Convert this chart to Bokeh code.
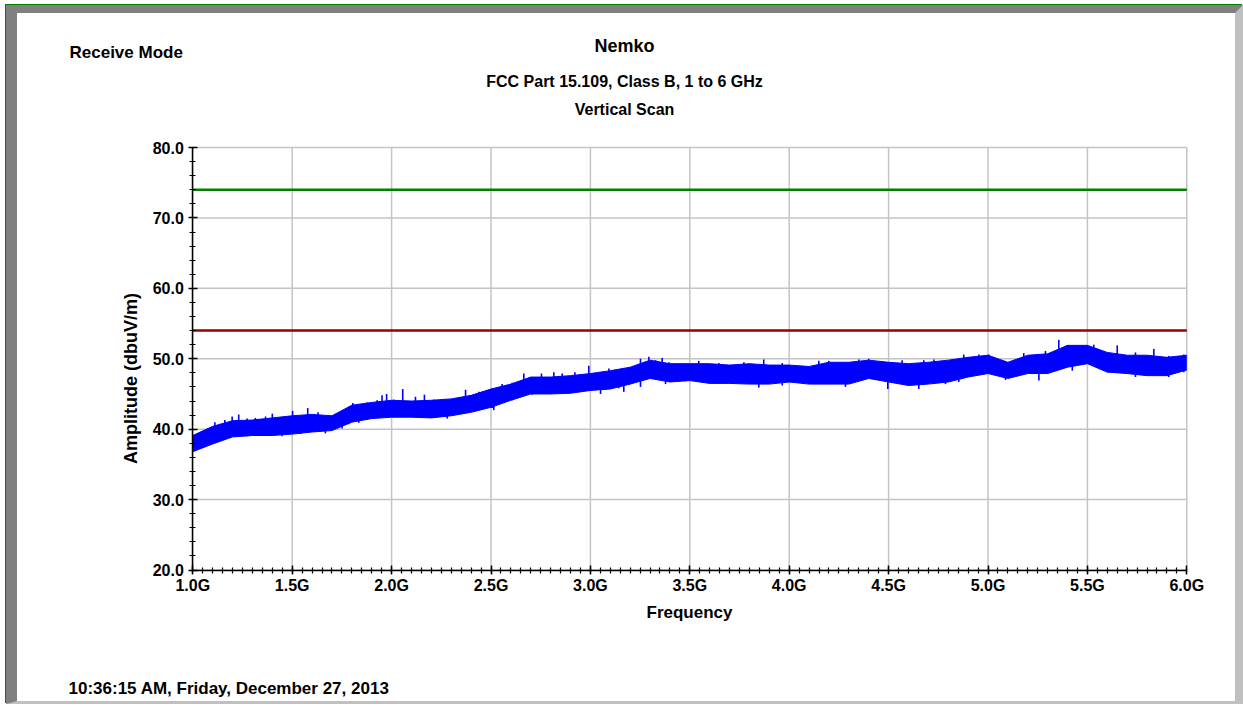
import math
import numpy as np
from bokeh.plotting import figure
from bokeh.models import (Range1d, FixedTicker, PrintfTickFormatter, Label, LinearAxis)
from bokeh.embed import file_html
from bokeh.resources import INLINE

# ---------------- data ----------------
freq_ghz = [1.0, 1.1, 1.2, 1.3, 1.4, 1.5, 1.6, 1.7, 1.8, 1.9,
            2.0, 2.1, 2.2, 2.3, 2.4, 2.5, 2.6, 2.7, 2.8, 2.9,
            3.0, 3.1, 3.2, 3.3, 3.4, 3.5, 3.6, 3.7, 3.8, 3.9,
            4.0, 4.1, 4.2, 4.3, 4.4, 4.5, 4.6, 4.7, 4.8, 4.9,
            5.0, 5.1, 5.2, 5.3, 5.4, 5.5, 5.6, 5.7, 5.8, 5.9, 6.0]
amp_high = [39.1, 40.4, 41.2, 41.3, 41.6, 41.9, 42.1, 41.9, 43.4, 43.8,
            44.1, 44.0, 44.1, 44.3, 44.8, 45.7, 46.4, 47.4, 47.4, 47.6,
            47.9, 48.3, 48.8, 49.8, 49.3, 49.3, 49.3, 49.1, 49.3, 49.1,
            49.1, 48.9, 49.5, 49.5, 49.8, 49.5, 49.3, 49.5, 49.8, 50.2,
            50.5, 49.5, 50.5, 50.7, 51.9, 51.9, 50.9, 50.5, 50.5, 50.2, 50.5]
amp_low = [36.8, 37.9, 38.9, 39.1, 39.1, 39.3, 39.6, 39.8, 41.0, 41.5,
           41.7, 41.7, 41.6, 41.9, 42.4, 43.1, 44.1, 45.0, 45.0, 45.1,
           45.5, 45.7, 46.4, 47.2, 46.7, 46.9, 46.5, 46.5, 46.4, 46.4,
           46.7, 46.4, 46.4, 46.4, 47.2, 46.7, 46.2, 46.4, 46.7, 47.4,
           47.9, 47.2, 47.9, 47.9, 48.8, 49.3, 48.1, 47.9, 47.6, 47.6, 48.4]

# upward spikes of the trace (frequency, peak value)
peak_freq = [1.111, 1.161, 1.198, 1.231, 1.273, 1.315, 1.366, 1.40, 1.449, 1.502,
             1.542, 1.578, 1.630, 1.667, 1.751, 1.785, 1.805, 1.835, 1.877, 1.927,
             1.952, 1.975, 2.011, 2.056, 2.120, 2.165, 2.212, 2.271, 2.372, 2.439,
             2.506, 2.556, 2.607, 2.665, 2.707, 2.754, 2.816, 2.858, 2.922, 2.992,
             3.051, 3.093, 3.143, 3.193, 3.252, 3.294, 3.328, 3.361, 3.395, 3.478,
             3.545, 3.646, 3.772, 3.872, 3.965, 4.149, 4.199, 4.350, 4.400, 4.518,
             4.568, 4.677, 4.728, 4.878, 4.954, 5.004, 5.180, 5.289, 5.356, 5.398,
             5.474, 5.532, 5.650, 5.742, 5.834, 5.909, 5.985]
peak_amp = [41.0, 41.3, 41.8, 42.1, 41.5, 41.6, 41.8, 42.2, 41.5, 42.6,
            41.8, 43.0, 42.4, 41.9, 42.6, 43.2, 43.7, 43.4, 43.8, 44.1,
            44.8, 45.0, 44.2, 45.7, 44.6, 44.9, 44.2, 44.3, 45.6, 45.3,
            45.5, 46.4, 46.6, 47.9, 47.4, 47.9, 48.1, 47.9, 48.1, 49.0,
            48.1, 48.6, 48.3, 48.8, 50.0, 50.3, 49.8, 50.1, 49.5, 49.3,
            49.7, 49.4, 49.5, 49.9, 49.4, 49.7, 49.7, 49.9, 50.0, 49.5,
            49.8, 49.8, 49.9, 50.6, 50.6, 50.6, 50.8, 51.1, 52.7, 51.9,
            51.7, 52.0, 51.9, 50.9, 51.4, 50.4, 50.6]

# downward spikes of the trace (frequency, dip value)
dip_freq = [2.280, 2.514, 3.051, 3.168, 3.252, 3.378, 3.847, 3.965, 4.283, 4.496,
            4.652, 4.786, 4.853, 5.088, 5.256, 5.424, 5.742, 5.909]
dip_amp = [41.5, 42.7, 45.0, 45.3, 46.0, 46.4, 45.9, 46.2, 46.0, 45.7,
           45.7, 46.4, 46.7, 47.0, 46.9, 48.3, 47.4, 47.4]

limit_peak = 74.0      # green line
limit_average = 54.0   # dark red line
x_limits = [1.0, 6.0]
y_limits = [20.0, 80.0]

x_major = [1.0, 1.5, 2.0, 2.5, 3.0, 3.5, 4.0, 4.5, 5.0, 5.5, 6.0]
y_major = [20, 30, 40, 50, 60, 70, 80]

title_main = "Nemko"
title_sub1 = "FCC Part 15.109, Class B, 1 to 6 GHz"
title_sub2 = "Vertical Scan"
mode_text = "Receive Mode"
date_text = "10:36:15 AM, Friday, December 27, 2013"
x_label = "Frequency"
y_label = "Amplitude (dbuV/m)"

# ---------------- layout geometry (page pixels) ----------------
W, H = 1237, 699                  # host box (border-box), canvas has this size
CANVAS_LEFT, CANVAS_TOP = 17, 13  # canvas origin on the page (inside the bevel)
PLOT_LEFT, PLOT_RIGHT = 192.3, 1186.3
PLOT_TOP, PLOT_BOTTOM = 147.0, 569.5

sx = (PLOT_RIGHT - PLOT_LEFT) / (x_limits[1] - x_limits[0])
sy = (PLOT_BOTTOM - PLOT_TOP) / (y_limits[1] - y_limits[0])
X0 = x_limits[0] - (PLOT_LEFT - CANVAS_LEFT) / sx
X1 = X0 + W / sx
Y1 = y_limits[1] + (PLOT_TOP - CANVAS_TOP) / sy
Y0 = Y1 - H / sy

FONT = "Liberation Sans"
BLUE = "#0000ff"
GRID = "#c4c4c4"

p = figure(width=W, height=H, output_backend="svg", toolbar_location=None,
           x_range=Range1d(X0, X1), y_range=Range1d(Y0, Y1),
           x_axis_type=None, y_axis_type=None, min_border=0,
           background_fill_color="white", border_fill_color="white")
p.styles = {
    "margin-left": "6px",
    "margin-top": "5px",
    "border-left": "11px solid #808080",
    "border-top": "8px solid #808080",
    "border-right": "8px solid #c0c0c0",
    "border-bottom": "3px solid #c0c0c0",
    "box-shadow": "-1px -1px 0 0 #008000",
}
p.outline_line_color = None

# grid lines (drawn from the tick values)
p.segment(x0=x_major, y0=[y_limits[0]] * len(x_major), x1=x_major, y1=[y_limits[1]] * len(x_major),
          line_color=GRID, line_width=1.5)
p.segment(x0=[x_limits[0]] * len(y_major), y0=y_major, x1=[x_limits[1]] * len(y_major), y1=y_major,
          line_color=GRID, line_width=1.5)

# axes fixed at the data corner
xminor = [round(1.0 + 0.05 * i, 2) for i in range(101)]
yminor = [20 + 2 * i for i in range(31)]
xaxis = LinearAxis(fixed_location=y_limits[0], bounds=tuple(x_limits),
                   ticker=FixedTicker(ticks=x_major, minor_ticks=xminor),
                   formatter=PrintfTickFormatter(format="%.1fG"), axis_label=x_label)
yaxis = LinearAxis(fixed_location=x_limits[0], bounds=tuple(y_limits),
                   ticker=FixedTicker(ticks=y_major, minor_ticks=yminor),
                   formatter=PrintfTickFormatter(format="%.1f"))
for ax in (xaxis, yaxis):
    ax.axis_line_color = "black"
    ax.axis_line_width = 1.5
    ax.major_tick_line_color = "black"
    ax.major_tick_line_width = 1.5
    ax.minor_tick_line_color = "black"
    ax.minor_tick_line_width = 1.2
    ax.major_tick_in = 5
    ax.major_tick_out = 4
    ax.minor_tick_in = 3
    ax.minor_tick_out = 3
    ax.major_label_text_font = FONT
    ax.major_label_text_font_style = "bold"
    ax.major_label_text_font_size = "16px"
    ax.major_label_text_color = "black"
    ax.axis_label_text_font = FONT
    ax.axis_label_text_font_style = "bold"
    ax.axis_label_text_font_size = "17px"
    ax.axis_label_text_color = "black"
xaxis.axis_label_standoff = 5
xaxis.major_label_standoff = 3
p.add_layout(xaxis, "below")
p.add_layout(yaxis, "left")

# limit lines
p.line(x=x_limits, y=[limit_peak, limit_peak], line_color="#008000", line_width=2.5)
p.line(x=x_limits, y=[limit_average, limit_average], line_color="#990000", line_width=2.5)

# measured trace: band plus spikes
p.varea(x=freq_ghz, y1=amp_low, y2=amp_high, fill_color=BLUE)
p.line(x=freq_ghz, y=amp_high, line_color=BLUE, line_width=1)
p.line(x=freq_ghz, y=amp_low, line_color=BLUE, line_width=1)
peak_base = [a - 2.5 for a in peak_amp]
dip_base = [a + 2.5 for a in dip_amp]
p.segment(x0=peak_freq, y0=peak_base, x1=peak_freq, y1=peak_amp,
          line_color=BLUE, line_width=1.6)
p.segment(x0=dip_freq, y0=dip_base, x1=dip_freq, y1=dip_amp,
          line_color=BLUE, line_width=1.6)

# texts (screen units measured from the frame's bottom-left, i.e. the canvas)
def add_text(txt, page_x, page_y, size, align="left", angle=0.0):
    p.add_layout(Label(x=page_x - CANVAS_LEFT, y=(CANVAS_TOP + H) - page_y,
                       x_units="screen", y_units="screen", angle=angle,
                       text=txt, text_font=FONT, text_font_style="bold",
                       text_font_size=size, text_color="black",
                       text_align=align, text_baseline="middle"))

add_text(mode_text, 69, 52, "17px")
add_text(title_main, 624, 45.5, "18px", "center")
add_text(title_sub1, 624, 81, "16px", "center")
add_text(title_sub2, 624, 108.5, "16px", "center")
add_text(date_text, 68, 688, "17px")
add_text(y_label, 130, 378, "18px", "center", math.pi / 2)

open("out.html", "w").write(file_html(p, INLINE))
